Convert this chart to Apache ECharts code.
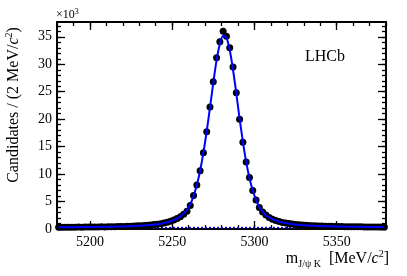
<!DOCTYPE html>
<html><head><meta charset="utf-8">
<script src="https://cdn.jsdelivr.net/npm/echarts@6/dist/echarts.min.js"></script>
<style>html,body{margin:0;padding:0;background:#fff}#c{width:407px;height:276px}</style>
</head><body><div id="c"></div>
<script>
// bin centres (MeV/c^2), 2 MeV bins
const massBins = [5181,5183,5185,5187,5189,5191,5193,5195,5197,5199,5201,5203,5205,5207,5209,5211,5213,5215,5217,5219,5221,5223,5225,5227,5229,5231,5233,5235,5237,5239,5241,5243,5245,5247,5249,5251,5253,5255,5257,5259,5261,5263,5265,5267,5269,5271,5273,5275,5277,5279,5281,5283,5285,5287,5289,5291,5293,5295,5297,5299,5301,5303,5305,5307,5309,5311,5313,5315,5317,5319,5321,5323,5325,5327,5329,5331,5333,5335,5337,5339,5341,5343,5345,5347,5349,5351,5353,5355,5357,5359,5361,5363,5365,5367,5369,5371,5373,5375,5377,5379];
// candidates per bin, in units of 10^3
const candidates = [0.32,0.30,0.33,0.31,0.34,0.32,0.35,0.33,0.36,0.35,0.37,0.36,0.38,0.39,0.38,0.41,0.40,0.43,0.44,0.45,0.47,0.49,0.51,0.54,0.57,0.60,0.64,0.69,0.74,0.80,0.88,0.97,1.08,1.22,1.40,1.62,1.90,2.25,2.70,3.25,4.3,6.1,8.0,10.6,13.9,17.7,22.2,26.8,31.2,34.1,36.0,35.1,33.0,29.5,24.8,20.0,15.8,12.2,9.4,7.0,5.3,3.9,3.1,2.55,2.1,1.78,1.55,1.35,1.2,1.08,0.98,0.9,0.82,0.76,0.71,0.67,0.63,0.60,0.57,0.55,0.53,0.51,0.49,0.48,0.46,0.45,0.44,0.43,0.42,0.41,0.40,0.39,0.39,0.38,0.37,0.37,0.36,0.36,0.35,0.35];
// total fit curve at bin centres (10^3)
const fitTotal = [0.32,0.32,0.33,0.33,0.34,0.34,0.35,0.35,0.36,0.36,0.37,0.38,0.38,0.39,0.40,0.41,0.42,0.43,0.44,0.46,0.47,0.49,0.51,0.54,0.57,0.60,0.64,0.69,0.74,0.80,0.88,0.97,1.08,1.22,1.40,1.63,1.92,2.3,2.8,3.5,4.5,6.0,8.0,10.6,13.9,17.8,22.1,26.6,30.7,33.7,35.2,34.8,32.6,29.0,24.7,20.1,15.9,12.2,9.3,7.0,5.3,4.0,3.1,2.5,2.1,1.8,1.55,1.35,1.2,1.08,0.98,0.9,0.82,0.76,0.71,0.67,0.63,0.60,0.57,0.55,0.53,0.51,0.49,0.48,0.46,0.45,0.44,0.43,0.42,0.41,0.40,0.39,0.39,0.38,0.37,0.37,0.36,0.36,0.35,0.35];
// background component
const bkgX = [5180, 5380];
const bkgY = [0.25, 0.25];
// ticks
const xMajor = [5200, 5250, 5300, 5350];
const xMinor = [5180,5190,5200,5210,5220,5230,5240,5250,5260,5270,5280,5290,5300,5310,5320,5330,5340,5350,5360,5370,5380];
const yMajor = [0, 5, 10, 15, 20, 25, 30, 35];
const yMinor = [0,1,2,3,4,5,6,7,8,9,10,11,12,13,14,15,16,17,18,19,20,21,22,23,24,25,26,27,28,29,30,31,32,33,34,35,36,37];

const X_MIN = 5180, X_MAX = 5380, Y_MIN = 0, Y_MAX = 37.7;
const SERIF = '"Liberation Serif", "DejaVu Serif", serif';

function xAx(pos, ticks, len, labels, line) {
  return {
    type: 'value', min: X_MIN, max: X_MAX, position: pos,
    axisLine: { show: line, onZero: false, lineStyle: { color: '#000', width: 2 } },
    axisTick: { show: true, inside: true, length: len, customValues: ticks, lineStyle: { color: '#000', width: 1.3 } },
    axisLabel: labels ? { show: true, customValues: xMajor, formatter: v => String(v), color: '#000', fontFamily: SERIF, fontSize: 14, margin: 6 } : { show: false },
    splitLine: { show: false }
  };
}
function yAx(pos, ticks, len, labels, line) {
  return {
    type: 'value', min: Y_MIN, max: Y_MAX, position: pos,
    axisLine: { show: line, onZero: false, lineStyle: { color: '#000', width: 2 } },
    axisTick: { show: true, inside: true, length: len, customValues: ticks, lineStyle: { color: '#000', width: 1.3 } },
    axisLabel: labels ? { show: true, customValues: yMajor, formatter: v => String(v), color: '#000', fontFamily: SERIF, fontSize: 14, margin: 5 } : { show: false },
    splitLine: { show: false }
  };
}

const chart = echarts.init(document.getElementById('c'), null, { renderer: 'canvas' });
chart.setOption({
  animation: false,
  backgroundColor: '#fff',
  grid: { left: 57, right: 21, top: 22, bottom: 47, containLabel: false },
  xAxis: [
    xAx('bottom', xMajor, 8, true, true),
    xAx('top', xMajor, 8, false, true),
    xAx('bottom', xMinor, 4, false, false),
    xAx('top', xMinor, 4, false, false)
  ],
  yAxis: [
    yAx('left', yMajor, 8, true, true),
    yAx('right', yMajor, 8, false, true),
    yAx('left', yMinor, 4, false, false),
    yAx('right', yMinor, 4, false, false)
  ],
  series: [
    {
      type: 'line', name: 'background', xAxisIndex: 0, yAxisIndex: 0,
      data: bkgX.map((x, i) => [x, bkgY[i]]),
      showSymbol: false, symbol: 'none',
      lineStyle: { color: '#0000ff', width: 1.6, type: [2, 2] }, z: 2
    },
    {
      type: 'scatter', name: 'data', xAxisIndex: 0, yAxisIndex: 0,
      data: massBins.map((x, i) => [x, candidates[i]]),
      symbol: 'circle', symbolSize: 7,
      itemStyle: { color: '#000', opacity: 1 }, z: 3
    },
    {
      type: 'line', name: 'fit', xAxisIndex: 0, yAxisIndex: 0,
      data: massBins.map((x, i) => [x, fitTotal[i]]),
      showSymbol: false, symbol: 'none', smooth: 0.3,
      lineStyle: { color: '#0000ff', width: 2 }, z: 4
    }
  ],
  graphic: [
    {
      type: 'text', x: 14, y: 105, rotation: Math.PI / 2, z: 10,
      style: {
        text: '{t|Candidates / (2 MeV/}{i|c}{s|2}{t|)}',
        align: 'center', verticalAlign: 'middle',
        rich: {
          t: { fontFamily: SERIF, fontSize: 16, fill: '#000', lineHeight: 20 },
          i: { fontFamily: SERIF, fontSize: 16, fontStyle: 'italic', fill: '#000', lineHeight: 20 },
          s: { fontFamily: SERIF, fontSize: 10, fill: '#000', verticalAlign: 'top', lineHeight: 20 }
        }
      }
    },
    {
      type: 'text', x: 389, y: 259, z: 10,
      style: {
        text: '{t|m}{sub|J/ψ K}{t|  [MeV/}{i|c}{s|2}{t|]}',
        align: 'right', verticalAlign: 'middle',
        rich: {
          t: { fontFamily: SERIF, fontSize: 16, fill: '#000', lineHeight: 20 },
          i: { fontFamily: SERIF, fontSize: 16, fontStyle: 'italic', fill: '#000', lineHeight: 20 },
          s: { fontFamily: SERIF, fontSize: 10, fill: '#000', verticalAlign: 'top', lineHeight: 20 },
          sub: { fontFamily: SERIF, fontSize: 10, fill: '#000', verticalAlign: 'bottom', lineHeight: 20 }
        }
      }
    },
    {
      type: 'text', x: 56, y: 15, z: 10,
      style: {
        text: '{t|×10}{s|3}',
        align: 'left', verticalAlign: 'middle',
        rich: {
          t: { fontFamily: SERIF, fontSize: 12, fill: '#000', lineHeight: 14 },
          s: { fontFamily: SERIF, fontSize: 8, fill: '#000', verticalAlign: 'top', lineHeight: 14 }
        }
      }
    },
    {
      type: 'text', x: 325, y: 57, z: 10,
      style: { text: 'LHCb', align: 'center', verticalAlign: 'middle', fontFamily: SERIF, fontSize: 16, fill: '#000' }
    }
  ]
});
</script></body></html>
